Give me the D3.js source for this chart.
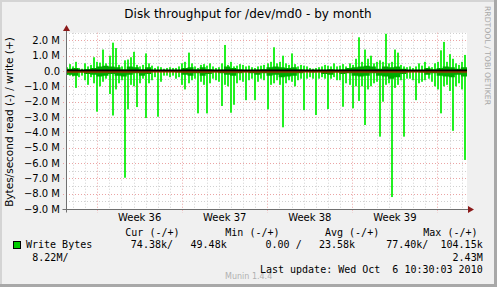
<!DOCTYPE html>
<html>
<head>
<meta charset="utf-8">
<script src="https://cdn.jsdelivr.net/npm/d3@7"></script>
<style>
  body { margin: 0; background: #f0f0f0; }
  svg { display: block; }
</style>
</head>
<body>
<div id="chart"></div>
<script>
// write (+) peaks per 6h bucket, in M bytes/s
const writeMax = [
  0.25, 0.45, 0.3, 0.6, 0.2, 0.15, 0.5, 0.3, 0.4, 0.9, 0.6, 0.55, 1.4, 0.5, 1.0, 1.85,
  1.5, 0.4, 0.3, 0.7, 0.75, 0.9, 1.25, 0.4, 0.3, 0.4, 1.15, 0.5, 0.35, 0.2, 0.3, 0.25,
  0.15, 0.2, 0.25, 0.2, 0.2, 0.3, 0.5, 0.6, 1.2, 0.5, 0.3, 0.2, 0.4, 0.45, 0.35, 0.5,
  0.3, 0.2, 0.25, 0.5, 1.7, 0.4, 0.6, 0.3, 0.35, 0.45, 0.4, 0.3, 0.35, 0.25, 0.2, 0.3,
  0.35, 0.4, 0.5, 0.6, 1.55, 0.5, 0.6, 1.0, 0.5, 0.4, 1.15, 0.45, 0.3, 0.4, 0.35, 0.3,
  0.2, 0.15, 0.2, 0.25, 0.3, 0.4, 0.35, 0.3, 0.5, 0.3, 0.35, 0.45, 0.3, 0.5, 0.4, 0.8,
  2.2, 0.6, 1.4, 0.8, 1.0, 0.5, 0.6, 0.7, 0.6, 2.43, 0.5, 0.6, 1.4, 1.2, 0.4, 0.3,
  0.25, 0.3, 0.2, 0.3, 0.5, 0.35, 0.6, 0.3, 0.25, 0.5, 0.6, 1.35, 1.9, 0.6, 1.1, 0.8,
  0.5, 0.4, 0.6, 1.05
];
// read (-) peaks per 6h bucket, magnitude in M bytes/s
const readMax = [
  0.25, 0.3, 0.35, 1.1, 0.4, 0.3, 0.6, 0.9, 0.4, 0.8, 2.65, 1.0, 0.7, 0.5, 1.5, 2.9,
  1.2, 0.8, 0.6, 6.96, 2.5, 0.9, 1.0, 2.35, 0.8, 0.5, 3.07, 0.8, 0.6, 0.4, 2.98, 0.7,
  0.3, 0.3, 0.4, 0.3, 0.5, 0.4, 0.9, 1.2, 0.8, 0.6, 0.5, 2.76, 0.7, 0.9, 2.76, 0.8,
  0.5, 0.6, 0.7, 2.28, 0.9, 1.0, 2.72, 2.2, 0.8, 0.6, 0.7, 1.9, 0.6, 0.5, 1.9, 0.7,
  0.5, 0.6, 2.5, 0.9, 0.8, 0.6, 0.9, 3.67, 0.8, 0.6, 0.7, 1.0, 0.6, 0.5, 2.55, 0.5,
  0.4, 0.5, 2.87, 0.5, 0.4, 0.5, 2.48, 0.5, 0.4, 0.6, 0.6, 2.33, 0.8, 0.9, 2.43, 1.0,
  1.95, 1.0, 3.52, 1.2, 1.0, 0.8, 0.7, 4.28, 2.0, 0.9, 0.8, 8.22, 1.1, 0.9, 0.6, 4.28,
  0.5, 0.5, 0.6, 1.9, 0.8, 0.7, 0.6, 0.5, 0.7, 1.0, 1.2, 2.76, 1.0, 0.9, 1.3, 3.9,
  1.0, 0.8, 1.2, 5.8
];
// averages per 12h bucket
const writeAvg = [
  0.15, 0.2, 0.05, 0.12, 0.2, 0.3, 0.35, 0.3, 0.25, 0.1, 0.3, 0.25, 0.1, 0.25, 0.04, 0.03,
  0.03, 0.04, 0.05, 0.2, 0.25, 0.1, 0.25, 0.12, 0.05, 0.08, 0.3, 0.2, 0.1, 0.06, 0.05, 0.08,
  0.12, 0.25, 0.3, 0.25, 0.2, 0.25, 0.1, 0.04, 0.03, 0.04, 0.06, 0.12, 0.05, 0.1, 0.2, 0.25,
  0.3, 0.35, 0.3, 0.15, 0.3, 0.25, 0.3, 0.15, 0.04, 0.04, 0.06, 0.2, 0.1, 0.2, 0.3, 0.25,
  0.15, 0.25
];
const readAvg = [
  0.25, 0.3, 0.1, 0.2, 0.25, 0.35, 0.3, 0.2, 0.3, 0.35, 0.25, 0.15, 0.3, 0.2, 0.05, 0.04,
  0.05, 0.06, 0.1, 0.25, 0.3, 0.15, 0.3, 0.2, 0.08, 0.15, 0.25, 0.3, 0.15, 0.08, 0.15, 0.25,
  0.15, 0.3, 0.25, 0.4, 0.35, 0.3, 0.15, 0.06, 0.1, 0.08, 0.2, 0.25, 0.1, 0.2, 0.15, 0.3,
  0.35, 0.3, 0.15, 0.3, 0.35, 0.5, 0.4, 0.2, 0.08, 0.06, 0.1, 0.25, 0.15, 0.3, 0.35, 0.4,
  0.25, 0.35
];
const weekLabels = ["Week 36", "Week 37", "Week 38", "Week 39"];
const yTicks = [2, 1, 0, -1, -2, -3, -4, -5, -6, -7, -8, -9];
const legendHeads = ["Cur (-/+)", "Min (-/+)", "Avg (-/+)", "Max (-/+)"];
const legendVals = ["74.38k/", "49.48k", "0.00 /", "23.58k", "77.40k/", "104.15k"];
const legendVals2 = ["8.22M/", "2.43M"];

const W = 497, H = 287;
const t0 = new Date(Date.UTC(2010, 8, 3, 10, 30));
const t1 = new Date(Date.UTC(2010, 9, 6, 10, 30));

const svg = d3.select("#chart").append("svg")
    .attr("width", W).attr("height", H);

// frame
svg.append("rect").attr("width", W).attr("height", H).attr("fill", "#f0f0f0");
svg.append("rect").attr("x", 0).attr("y", 0).attr("width", W).attr("height", 2).attr("fill", "#d4d4d4");
svg.append("rect").attr("x", 0).attr("y", 0).attr("width", 2).attr("height", H).attr("fill", "#d4d4d4");
svg.append("rect").attr("x", W - 3).attr("y", 0).attr("width", 3).attr("height", H).attr("fill", "#a8a8a8");
svg.append("rect").attr("x", 0).attr("y", H - 3).attr("width", W).attr("height", 3).attr("fill", "#a8a8a8");

const x = d3.scaleUtc().domain([t0, t1]).range([66, 467]);
const y = d3.scaleLinear().domain([-9, 2.5]).range([209, 32.7]);

// plot background
svg.append("rect")
    .attr("x", x.range()[0]).attr("y", y(2.5))
    .attr("width", x.range()[1] - x.range()[0]).attr("height", y(-9) - y(2.5))
    .attr("fill", "#fff");

const grid = svg.append("g");
const halfSteps = d3.range(-9, 2.51, 0.5);
grid.selectAll(".hminor").data(halfSteps.filter(v => v % 1 !== 0)).enter().append("line")
    .attr("x1", x.range()[0]).attr("x2", x.range()[1])
    .attr("y1", d => Math.round(y(d)) + 0.5).attr("y2", d => Math.round(y(d)) + 0.5)
    .attr("stroke", "#d0d0d0").attr("stroke-dasharray", "1,2");
const days = d3.utcDay.range(t0, t1);
grid.selectAll(".vminor").data(days.filter(d => d.getUTCDay() !== 1)).enter().append("line")
    .attr("x1", d => Math.round(x(d)) + 0.5).attr("x2", d => Math.round(x(d)) + 0.5)
    .attr("y1", y(2.5)).attr("y2", y(-9))
    .attr("stroke", "#d0d0d0").attr("stroke-dasharray", "1,2");
grid.selectAll(".hmajor").data(yTicks).enter().append("line")
    .attr("x1", x.range()[0] - 3).attr("x2", x.range()[1])
    .attr("y1", d => Math.round(y(d)) + 0.5).attr("y2", d => Math.round(y(d)) + 0.5)
    .attr("stroke", "#eba4a4").attr("stroke-dasharray", "1,2");
const mondays = d3.utcMonday.range(t0, t1);
grid.selectAll(".vmajor").data(mondays).enter().append("line")
    .attr("x1", d => Math.round(x(d)) + 0.5).attr("x2", d => Math.round(x(d)) + 0.5)
    .attr("y1", y(2.5)).attr("y2", y(-9) + 4)
    .attr("stroke", "#eba4a4").attr("stroke-dasharray", "1,2");

// series
function steps(vals, sign) {
  const dt = (t1 - t0) / vals.length;
  const pts = vals.map((v, i) => ({ t: new Date(+t0 + i * dt), v: sign * v }));
  pts.push({ t: t1, v: sign * vals[vals.length - 1] });
  return pts;
}
const area = d3.area()
    .x(d => x(d.t)).y0(y(0)).y1(d => y(d.v))
    .curve(d3.curveStepAfter);

const brightGreen = "#22f022", darkGreen = "#00aa00";

// thin spikes for the peaks
function spikes(vals, sign) {
  const dt = (t1 - t0) / vals.length;
  svg.append("g").selectAll("rect").data(vals).enter().append("rect")
      .attr("x", (d, i) => Math.round(x(new Date(+t0 + i * dt))))
      .attr("width", 2)
      .attr("y", d => sign > 0 ? y(d) : y(0))
      .attr("height", d => Math.abs(y(d) - y(0)))
      .attr("fill", brightGreen);
}
spikes(writeMax, 1);
spikes(readMax, -1);
svg.append("path").datum(steps(writeAvg, 1)).attr("d", area).attr("fill", darkGreen);
svg.append("path").datum(steps(readAvg, -1)).attr("d", area).attr("fill", darkGreen);

// zero line
svg.append("line")
    .attr("x1", x.range()[0]).attr("x2", x.range()[1])
    .attr("y1", y(0) - 0.5).attr("y2", y(0) - 0.5)
    .attr("stroke", "#000").attr("stroke-width", 2);
svg.append("line")
    .attr("x1", x.range()[0]).attr("x2", x.range()[1])
    .attr("y1", y(0) + 1).attr("y2", y(0) + 1)
    .attr("stroke", "#e00000").attr("stroke-width", 1);

// axes
const axisCol = "#707070", arrowCol = "#8b1a1a";
const x0 = x.range()[0] + 0.5, yb = Math.round(y(-9)) + 0.5;
svg.append("line").attr("x1", x0).attr("x2", x0).attr("y1", yb + 3).attr("y2", 29)
    .attr("stroke", axisCol);
svg.append("line").attr("x1", x0 - 4).attr("x2", 469).attr("y1", yb).attr("y2", yb)
    .attr("stroke", axisCol);
svg.append("path").attr("d", `M${x0 - 3.5},31 L${x0},25 L${x0 + 3.5},31 Z`).attr("fill", arrowCol);
svg.append("path").attr("d", `M468,${yb - 3.5} L474,${yb} L468,${yb + 3.5} Z`).attr("fill", arrowCol);

// y tick labels
const fmtY = v => v === 0 ? "0.0" : d3.format(".1f")(v) + " M";
svg.selectAll(".ylab").data(yTicks).enter().append("text")
    .attr("x", 60).attr("y", d => y(d) + 3.5)
    .attr("text-anchor", "end")
    .attr("font-family", "DejaVu Sans").attr("font-size", 10)
    .text(fmtY);

// week labels, centred mid-week
const weekMid = mondays.slice(0, weekLabels.length).map(d => new Date(+d + 3.5 * 864e5));
svg.selectAll(".xlab").data(weekLabels).enter().append("text")
    .attr("x", (d, i) => x(weekMid[i])).attr("y", 221)
    .attr("text-anchor", "middle")
    .attr("font-family", "DejaVu Sans").attr("font-size", 10)
    .text(d => d);

// titles
svg.append("text").attr("x", 248).attr("y", 18).attr("text-anchor", "middle")
    .attr("font-family", "DejaVu Sans").attr("font-size", 12)
    .text("Disk throughput for /dev/md0 - by month");
svg.append("text").attr("transform", "translate(13,122) rotate(-90)")
    .attr("text-anchor", "middle")
    .attr("font-family", "DejaVu Sans").attr("font-size", 10.5)
    .text("Bytes/second read (-) / write (+)");
svg.append("text").attr("transform", "translate(485,6) rotate(90)")
    .attr("font-family", "DejaVu Sans").attr("font-size", 7.7).attr("fill", "#a8a8a8")
    .text("RRDTOOL / TOBI OETIKER");

// legend
const mono = "DejaVu Sans Mono";
const headX = [125.3, 225.3, 325, 423.3];
svg.selectAll(".lhead").data(legendHeads).enter().append("text")
    .attr("x", (d, i) => headX[i]).attr("y", 236)
    .attr("font-family", mono).attr("font-size", 10).attr("xml:space", "preserve")
    .text(d => d);
svg.append("rect").attr("x", 13.5).attr("y", 241.5).attr("width", 7).attr("height", 7)
    .attr("fill", "#00cc00").attr("stroke", "#000");
svg.append("text").attr("x", 26).attr("y", 248)
    .attr("font-family", mono).attr("font-size", 10).text("Write Bytes");
const valEnd = [173, 226.7, 301.7, 355, 428.3, 482.7];
svg.selectAll(".lval").data(legendVals).enter().append("text")
    .attr("x", (d, i) => valEnd[i]).attr("y", 248).attr("text-anchor", "end")
    .attr("font-family", mono).attr("font-size", 10).attr("xml:space", "preserve")
    .text(d => d);
svg.append("text").attr("x", 32.3).attr("y", 260.5)
    .attr("font-family", mono).attr("font-size", 10).text(legendVals2[0]);
svg.append("text").attr("x", 482.7).attr("y", 260.5).attr("text-anchor", "end")
    .attr("font-family", mono).attr("font-size", 10).text(legendVals2[1]);
svg.append("text").attr("x", 225).attr("y", 279)
    .attr("font-family", "DejaVu Sans").attr("font-size", 8).attr("fill", "#b0b0b0")
    .text("Munin 1.4.4");
svg.append("text").attr("x", 482.7).attr("y", 273).attr("text-anchor", "end")
    .attr("font-family", mono).attr("font-size", 10).attr("xml:space", "preserve")
    .text("Last update: Wed Oct  6 10:30:03 2010");
</script>
</body>
</html>
